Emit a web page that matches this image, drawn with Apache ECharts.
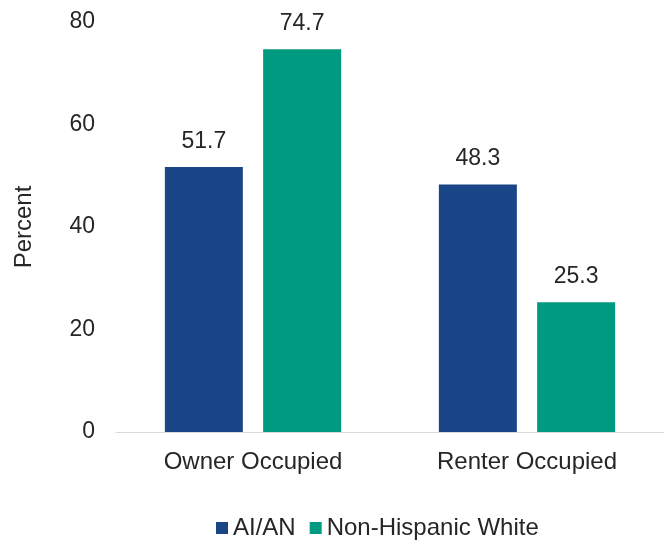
<!DOCTYPE html>
<html>
<head>
<meta charset="utf-8">
<script src="https://cdn.jsdelivr.net/npm/echarts@6/dist/echarts.min.js"></script>
<style>
html,body{margin:0;padding:0;background:#fff;}
#chartMain{width:666px;height:542px;}
</style>
</head>
<body>
<div id="chartMain"></div>
<script>
var categories = ['Owner Occupied', 'Renter Occupied'];
var aianValues = [51.7, 48.3];
var whiteValues = [74.7, 25.3];
var yTicks = [0, 20, 40, 60, 80];

var fontName = '"Liberation Sans", Arial, sans-serif';
var textColor = '#262626';

var myChart = echarts.init(document.getElementById('chartMain'));
var option = {
    animation: false,
    grid: {
        left: 116,
        right: 2,
        top: 22,
        bottom: 110
    },
    legend: {
        top: 511,
        left: 211,
        itemWidth: 12,
        itemHeight: 12,
        itemGap: 14,
        icon: 'rect',
        textStyle: { fontFamily: fontName, fontSize: 24, color: textColor },
        data: ['AI/AN', 'Non-Hispanic White']
    },
    xAxis: {
        type: 'category',
        data: categories,
        axisLine: { lineStyle: { color: '#d9d9d9', width: 1 } },
        axisTick: { show: false },
        axisLabel: { fontFamily: fontName, fontSize: 24, color: textColor, margin: 18 }
    },
    yAxis: {
        type: 'value',
        min: yTicks[0],
        max: yTicks[yTicks.length - 1],
        interval: 20,
        name: 'Percent',
        nameLocation: 'middle',
        nameGap: 80,
        nameRotate: 90,
        nameTextStyle: { fontFamily: fontName, fontSize: 24, color: textColor },
        axisLine: { show: false },
        axisTick: { show: false },
        splitLine: { show: false },
        axisLabel: { fontFamily: fontName, fontSize: 23, color: textColor, margin: 21 }
    },
    series: [{
        name: 'AI/AN',
        type: 'bar',
        data: aianValues,
        barWidth: 78,
        barGap: '26%',
        itemStyle: { color: '#1a4687' },
        label: { show: true, position: 'top', distance: 14, fontFamily: fontName, fontSize: 23, color: textColor }
    }, {
        name: 'Non-Hispanic White',
        type: 'bar',
        data: whiteValues,
        barWidth: 78,
        itemStyle: { color: '#009a80' },
        label: { show: true, position: 'top', distance: 14, fontFamily: fontName, fontSize: 23, color: textColor }
    }]
};
myChart.setOption(option);
</script>
</body>
</html>
